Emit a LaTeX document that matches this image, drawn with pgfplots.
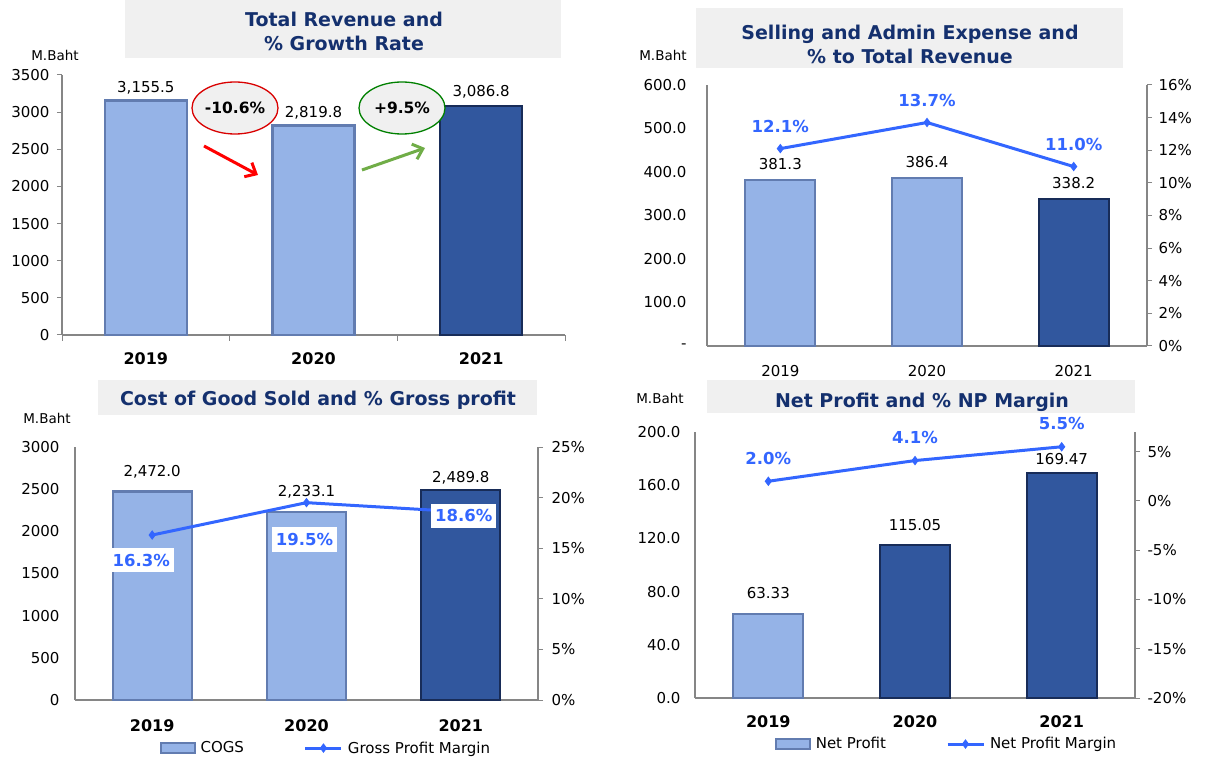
\documentclass[border=0pt]{standalone}
\usepackage{fontspec}
\setmainfont{DejaVu Sans}
\usepackage{pgfplots}
\pgfplotsset{compat=1.18}
\usetikzlibrary{arrows.meta}

\definecolor{barlight}{RGB}{149,179,231}
\definecolor{barlightedge}{RGB}{98,124,176}
\definecolor{bardark}{RGB}{49,87,158}
\definecolor{bardarkedge}{RGB}{24,44,88}
\definecolor{linecol}{RGB}{51,102,255}
\definecolor{titlecol}{RGB}{20,48,110}
\definecolor{titlebg}{RGB}{240,240,240}
\definecolor{axgray}{RGB}{134,134,134}
\definecolor{uparrow}{RGB}{112,173,71}

\newcommand{\fs}[1]{\fontsize{#1}{#1}\selectfont}

\pgfplotsset{
  panel/.style={
    scale only axis, anchor=south west, clip=false,
    xmin=-0.5, xmax=2.5,
    axis x line*=bottom, axis y line*=left,
    axis line style={axgray, line width=1.2pt},
    tick align=outside, major tick length=5pt,
    tick style={axgray, line width=1pt},
    xtick={0,1,2}, xticklabels={2019,2020,2021},
    major x tick style={draw=none},
    tick label style={font=\fs{15}, text=black},
    xticklabel style={yshift=-9pt},
    ybar,
  },
  rpanel/.style={
    scale only axis, anchor=south west, clip=false,
    xmin=-0.5, xmax=2.5,
    axis x line=none, axis y line*=right,
    axis line style={axgray, line width=1.2pt},
    tick align=outside, major tick length=5pt,
    tick style={axgray, line width=1pt},
    tick label style={font=\fs{15}, text=black},
  },
  light/.style={fill=barlight, draw=barlightedge, line width=2.2pt, bar shift=0pt},
  dark/.style={fill=bardark, draw=bardarkedge, line width=2.2pt, bar shift=0pt},
  vals/.style={nodes near coords={\pgfmathprintnumber[fixed,fixed zerofill,precision=#1,1000 sep={,},assume math mode=true]{\pgfplotspointmeta}}},
  vlab/.style={every node near coord/.append style={anchor=center, yshift=#1, font=\fs{15}, text=black, inner sep=0pt}},
  pct/.style={color=linecol, line width=3pt, mark=diamond*, mark size=4pt,
    mark options={solid, fill=linecol, line width=1pt},
    nodes near coords={\pgfmathprintnumber[fixed,fixed zerofill,precision=1,assume math mode=true]{\pgfplotspointmeta}\%},
    legend image code/.code={\draw[mark repeat=2, mark phase=2, ##1] plot coordinates {(0pt,0pt) (18pt,0pt) (36pt,0pt)};}},
  plab/.style={every node near coord/.append style={anchor=center, yshift=#1, font=\fs{16.5}\bfseries, text=linecol, inner sep=0pt}},
  barlegend/.style={legend image code/.code={\draw[fill=barlight, draw=barlightedge, line width=2pt] (0pt,-5pt) rectangle (34pt,5pt);}},
}

\begin{document}
\begin{tikzpicture}[x=1pt, y=1pt]
\useasboundingbox (0,0) rectangle (1215,758);
\fill[white] (0,0) rectangle (1215,758);

% title boxes
\fill[titlebg] (125,700) rectangle (561,758);
\node[align=center, text=titlecol, font=\fs{19}\bfseries] at (344,727) {Total Revenue and\\[5pt]\% Growth Rate};
\fill[titlebg] (696,690) rectangle (1123,750);
\node[align=center, text=titlecol, font=\fs{19}\bfseries] at (910,714) {Selling and Admin Expense and\\[5pt]\% to Total Revenue};
\fill[titlebg] (98,343) rectangle (537,378);
\node[text=titlecol, font=\fs{19}\bfseries] at (318,358) {Cost of Good Sold and \% Gross profit};
\fill[titlebg] (707,345) rectangle (1135,378);
\node[text=titlecol, font=\fs{19}\bfseries] at (922,356) {Net Profit and \% NP Margin};

\node[font=\fs{13.5}] at (55,703) {M.Baht};
\node[font=\fs{13.5}] at (663,703) {M.Baht};
\node[font=\fs{13.5}] at (47,340) {M.Baht};
\node[font=\fs{13.5}] at (660,360) {M.Baht};

% ---------- Total revenue
\begin{axis}[panel, at={(62pt,423pt)}, width=503pt, height=260pt,
  ymin=0, ymax=3500, ytick={0,500,...,3500},
  yticklabels={0,500,1000,1500,2000,2500,3000,3500},
  yticklabel style={xshift=-4pt},
  bar width=82pt,
  xticklabel style={font=\fs{16}\bfseries},
  minor xtick={-0.5,0.5,1.5,2.5}, minor tick length=6pt,
  minor x tick style={axgray, line width=1pt}]
\addplot[light, vals=1, vlab=13pt] coordinates {(0,3155.5) (1,2819.8)};
\addplot[dark, vals=1, vlab=14pt] coordinates {(2,3086.8)};
\end{axis}

% growth annotations
\draw[red!85!black, line width=1.3pt, fill=titlebg] (235,650) ellipse (43 and 26);
\node[font=\fs{15.5}\bfseries] at (235,650) {-10.6\%};
\draw[green!50!black, line width=1.3pt, fill=titlebg] (402,650) ellipse (43 and 26);
\node[font=\fs{15.5}\bfseries] at (402,650) {+9.5\%};
\draw[red, line width=3pt, -{Straight Barb[length=9pt,width=16pt]}] (204,612) -- (258,583);
\draw[uparrow, line width=3pt, -{Straight Barb[length=9pt,width=16pt]}] (362,588) -- (425,610);

% ---------- Selling and admin
\begin{axis}[panel, at={(707pt,412pt)}, width=440pt, height=261pt,
  ymin=0, ymax=600, ytick={0,100,...,600},
  yticklabels={-,100.0,200.0,300.0,400.0,500.0,600.0},
  yticklabel style={xshift=-12pt},
  xticklabel style={yshift=-2pt},
  major y tick style={draw=none},
  bar width=70pt]
\addplot[light, vals=1, vlab=16pt] coordinates {(0,381.3) (1,386.4)};
\addplot[dark, vals=1, vlab=16pt] coordinates {(2,338.2)};
\end{axis}
\begin{axis}[rpanel, at={(707pt,412pt)}, width=440pt, height=261pt,
  ymin=0, ymax=16, ytick={0,2,...,16},
  yticklabel style={xshift=3pt},
  yticklabels={0\%,2\%,4\%,6\%,8\%,10\%,12\%,14\%,16\%}]
\addplot[pct, plab=22pt] coordinates {(0,12.1) (1,13.7) (2,11.0)};
\end{axis}

% ---------- COGS
\begin{axis}[panel, at={(75pt,58pt)}, width=463pt, height=253pt,
  ymin=0, ymax=3000, ytick={0,500,...,3000},
  yticklabels={0,500,1000,1500,2000,2500,3000},
  yticklabel style={xshift=-7pt},
  major y tick style={draw=none},
  bar width=79pt,
  xticklabel style={font=\fs{16}\bfseries, yshift=-2pt}]
\addplot[light, vals=1, vlab=19.5pt] coordinates {(0,2472.0) (1,2233.1)};
\addplot[dark, vals=1, vlab=12pt] coordinates {(2,2489.8)};
\end{axis}
\begin{axis}[rpanel, at={(75pt,58pt)}, width=463pt, height=253pt,
  ymin=0, ymax=25, ytick={0,5,...,25},
  yticklabels={0\%,5\%,10\%,15\%,20\%,25\%},
  yticklabel style={xshift=5pt},
  legend style={at={(0.545,-0.19)}, anchor=center, draw=none, fill=none,
    font=\fs{15}, legend columns=2,
    /tikz/every even column/.append style={column sep=55pt},
    nodes={inner xsep=5pt}},
  legend cell align=left]
\addlegendimage{barlegend}
\addlegendentry{COGS}
\addplot[pct,
  visualization depends on={\thisrow{dx} \as \dx},
  visualization depends on={\thisrow{dy} \as \dy},
  every node near coord/.append style={anchor=center, xshift=\dx*1pt, yshift=\dy*1pt,
    fill=white, inner xsep=4pt, inner ysep=6pt, font=\fs{16.5}\bfseries, text=linecol}]
  table {
x y dx dy
0 16.3 -11 -25
1 19.5 -2 -37
2 18.6 3 -4
};
\addlegendentry{Gross Profit Margin}
\end{axis}

% ---------- Net profit
\begin{axis}[panel, at={(695pt,60pt)}, width=440pt, height=266pt,
  ymin=0, ymax=200, ytick={0,40,...,200},
  yticklabels={0.0,40.0,80.0,120.0,160.0,200.0},
  yticklabel style={xshift=-6pt},
  major y tick style={draw=none},
  bar width=70pt,
  xticklabel style={font=\fs{16}\bfseries}]
\addplot[light, vals=2, vlab=21pt] coordinates {(0,63.33)};
\addplot[dark, vals=2, vlab=20pt] coordinates {(1,115.05)};
\addplot[dark, vals=2, vlab=14pt] coordinates {(2,169.47)};
\end{axis}
\begin{axis}[rpanel, at={(695pt,60pt)}, width=440pt, height=266pt,
  ymin=-20, ymax=7, ytick={-20,-15,...,5},
  yticklabels={-20\%,-15\%,-10\%,-5\%,0\%,5\%},
  yticklabel style={xshift=4pt},
  legend style={at={(0.575,-0.173)}, anchor=center, draw=none, fill=none,
    font=\fs{15}, legend columns=2,
    /tikz/every even column/.append style={column sep=55pt},
    nodes={inner xsep=5pt}},
  legend cell align=left]
\addlegendimage{barlegend}
\addlegendentry{Net Profit}
\addplot[pct, plab=23pt] coordinates {(0,2.0) (1,4.1) (2,5.5)};
\addlegendentry{Net Profit Margin}
\end{axis}
\end{tikzpicture}
\end{document}
